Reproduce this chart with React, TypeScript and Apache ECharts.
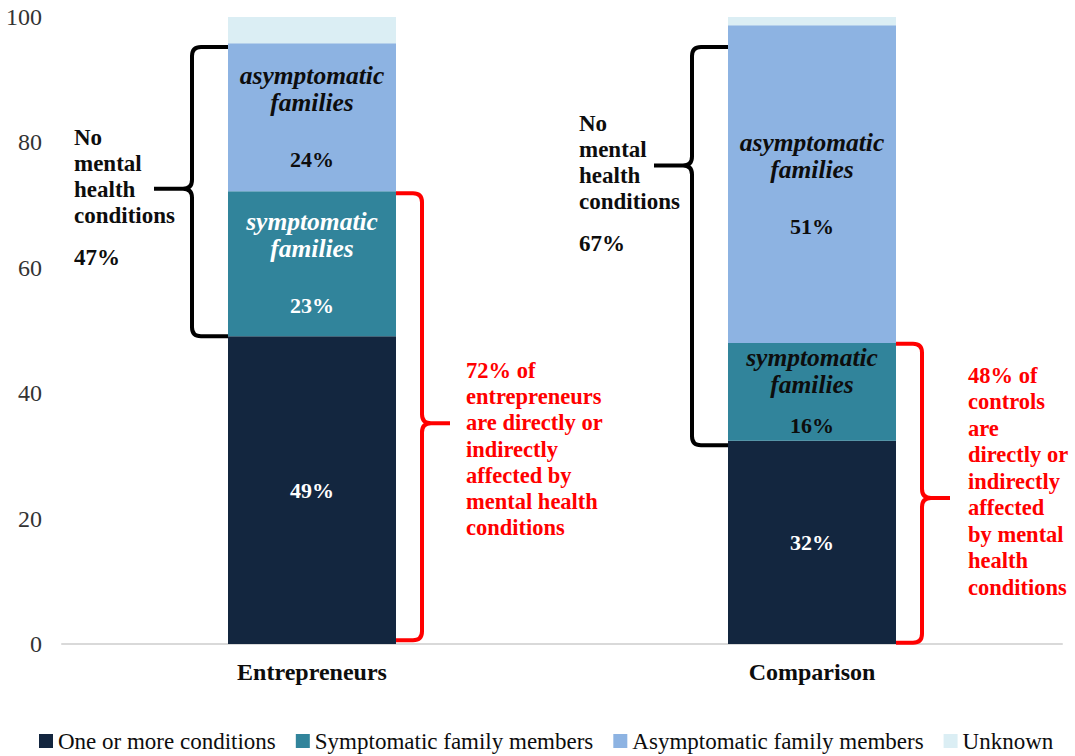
import React, { useEffect, useRef } from "react";
import * as echarts from "echarts";

const categories = ["Entrepreneurs", "Comparison"];
const seriesNames = [
  "One or more conditions",
  "Symptomatic family members",
  "Asymptomatic family members",
  "Unknown",
];
const oneOrMore = [49.1, 32.4];
const symptomatic = [23.1, 15.6];
const asymptomatic = [23.6, 50.7];
const unknown = [4.2, 1.3];

const oneOrMoreLabels = ["49%", "32%"];
const symptomaticLabels = ["23%", "16%"];
const asymptomaticLabels = ["24%", "51%"];

// brace annotations (data units on the value axis)
const blackBraceFrom = [49.1, 31.7];
const blackBraceTo = [95.2, 95.2];
const blackBraceTip = [72.6, 76.3];
const redBraceFrom = [0.6, 0.2];
const redBraceTo = [71.9, 47.9];
const redBraceTip = [35.2, 23.3];

const noCondShare = ["47%", "67%"];
const redTexts = [
  "72% of\nentrepreneurs\nare directly or\nindirectly\naffected by\nmental health\nconditions",
  "48% of\ncontrols\nare\ndirectly or\nindirectly\naffected\nby mental\nhealth\nconditions",
];

const FONT = "Times New Roman, Liberation Serif, DejaVu Serif, serif";
const COLORS = ["#13263f", "#31849b", "#8db3e2", "#dbeef4"];
const BAR_FRAC = 0.336;

function bracePath(
  x0: number,
  side: number,
  d1: number,
  d2: number,
  yTop: number,
  yBot: number,
  yTip: number,
  r: number
) {
  const x1 = x0 + side * d1;
  const x2 = x0 + side * d2;
  return (
    `M${x0} ${yTop} L${x1 - side * r} ${yTop} Q${x1} ${yTop} ${x1} ${yTop + r} ` +
    `L${x1} ${yTip - r} Q${x1} ${yTip} ${x1 + side * r} ${yTip} L${x2} ${yTip} ` +
    `M${x1 + side * r} ${yTip} Q${x1} ${yTip} ${x1} ${yTip + r} ` +
    `L${x1} ${yBot - r} Q${x1} ${yBot} ${x1 - side * r} ${yBot} L${x0} ${yBot}`
  );
}

function braceSeries(
  from: number[],
  to: number[],
  tip: number[],
  side: number,
  d1: number,
  d2: number,
  color: string
) {
  return {
    type: "custom",
    silent: true,
    z: 10,
    data: categories.map((_, i) => [i, from[i], to[i], tip[i]]),
    renderItem: (params: any, api: any) => {
      const cat = api.value(0);
      const pBot = api.coord([cat, api.value(1)]);
      const pTop = api.coord([cat, api.value(2)]);
      const pTip = api.coord([cat, api.value(3)]);
      const band = api.size([1, 0])[0];
      const half = (band * BAR_FRAC) / 2;
      const x0 = pTop[0] + side * half;
      return {
        type: "path",
        shape: {
          pathData: bracePath(x0, side, d1, d2, pTop[1], pBot[1], pTip[1], 9),
        },
        style: { stroke: color, lineWidth: 4, fill: "none" },
      };
    },
  };
}

export default function App() {
  const ref = useRef<HTMLDivElement>(null);
  useEffect(() => {
    const chart = echarts.init(ref.current!, null, { renderer: "svg" });
    const rich = {
      it: {
        fontFamily: FONT,
        fontStyle: "italic",
        fontWeight: "bold",
        fontSize: 25.5,
        lineHeight: 27,
      },
      pct: { fontFamily: FONT, fontWeight: "bold", fontSize: 22, lineHeight: 27 },
      gap: { fontFamily: FONT, fontSize: 10, lineHeight: 30 },
      gapS: { fontFamily: FONT, fontSize: 10, lineHeight: 14 },
    };
    const symptomColors = ["#ffffff", "#0d0d0d"];
    const symptomGaps = ["gap", "gapS"];
    const textStyle = (size: number, color: string, lh: number) => ({
      fontFamily: FONT,
      fontWeight: "bold",
      fontSize: size,
      lineHeight: lh,
      fill: color,
    });
    chart.setOption({
      animation: false,
      textStyle: { fontFamily: FONT },
      grid: { left: 62, right: 13, top: 17, bottom: 112 },
      legend: {
        data: seriesNames,
        left: 39,
        top: 729,
        width: 1036,
        padding: 0,
        icon: "rect",
        itemWidth: 14,
        itemHeight: 14,
        itemGap: 20,
        textStyle: { fontFamily: FONT, fontSize: 23, lineHeight: 24, color: "#0d0d0d" },
        selectedMode: false,
      },
      xAxis: {
        type: "category",
        data: categories,
        axisLine: { lineStyle: { color: "#d9d9d9", width: 2 } },
        axisTick: { show: false },
        axisLabel: {
          fontFamily: FONT,
          fontWeight: "bold",
          fontSize: 24,
          color: "#0d0d0d",
          margin: 16,
        },
      },
      yAxis: {
        type: "value",
        min: 0,
        max: 100,
        interval: 20,
        axisLine: { show: false },
        axisTick: { show: false },
        splitLine: { show: false },
        axisLabel: { fontFamily: FONT, fontSize: 24, color: "#333333", margin: 20 },
      },
      series: [
        {
          name: seriesNames[0],
          type: "bar",
          stack: "all",
          barWidth: BAR_FRAC * 100 + "%",
          itemStyle: { color: COLORS[0] },
          data: oneOrMore,
          label: {
            show: true,
            position: "inside",
            color: "#ffffff",
            fontFamily: FONT,
            fontWeight: "bold",
            fontSize: 22,
            formatter: (p: any) => oneOrMoreLabels[p.dataIndex],
          },
        },
        {
          name: seriesNames[1],
          type: "bar",
          stack: "all",
          itemStyle: { color: COLORS[1] },
          data: symptomatic.map((v, i) => ({
            value: v,
            label: { color: symptomColors[i] },
          })),
          label: {
            show: true,
            position: "inside",
            fontFamily: FONT,
            rich,
            formatter: (p: any) =>
              `{it|symptomatic}\n{it|families}\n{${symptomGaps[p.dataIndex]}| }\n{pct|${symptomaticLabels[p.dataIndex]}}`,
          },
        },
        {
          name: seriesNames[2],
          type: "bar",
          stack: "all",
          itemStyle: { color: COLORS[2] },
          data: asymptomatic,
          label: {
            show: true,
            position: "inside",
            color: "#0d0d0d",
            fontFamily: FONT,
            rich,
            formatter: (p: any) =>
              `{it|asymptomatic}\n{it|families}\n{gap| }\n{pct|${asymptomaticLabels[p.dataIndex]}}`,
          },
        },
        {
          name: seriesNames[3],
          type: "bar",
          stack: "all",
          itemStyle: { color: COLORS[3] },
          data: unknown,
        },
        braceSeries(blackBraceFrom, blackBraceTo, blackBraceTip, -1, 36, 74, "#000000"),
        braceSeries(redBraceFrom, redBraceTo, redBraceTip, 1, 26, 54, "#ff0000"),
      ],
      graphic: [
        {
          type: "text",
          left: 74,
          top: 124,
          style: { text: "No\nmental\nhealth\nconditions", ...textStyle(23, "#0d0d0d", 26) },
        },
        {
          type: "text",
          left: 74,
          top: 244,
          style: { text: noCondShare[0], ...textStyle(23, "#0d0d0d", 26) },
        },
        {
          type: "text",
          left: 579,
          top: 110,
          style: { text: "No\nmental\nhealth\nconditions", ...textStyle(23, "#0d0d0d", 26) },
        },
        {
          type: "text",
          left: 579,
          top: 230,
          style: { text: noCondShare[1], ...textStyle(23, "#0d0d0d", 26) },
        },
        {
          type: "text",
          left: 466,
          top: 357,
          style: { text: redTexts[0], ...textStyle(22.5, "#ff0000", 26.3) },
        },
        {
          type: "text",
          left: 968,
          top: 362,
          style: { text: redTexts[1], ...textStyle(22.5, "#ff0000", 26.5) },
        },
      ],
    });
    return () => chart.dispose();
  }, []);
  return (
    <div
      ref={ref}
      style={{ position: "fixed", left: 0, top: 0, width: 1075, height: 756, background: "#ffffff" }}
    />
  );
}
